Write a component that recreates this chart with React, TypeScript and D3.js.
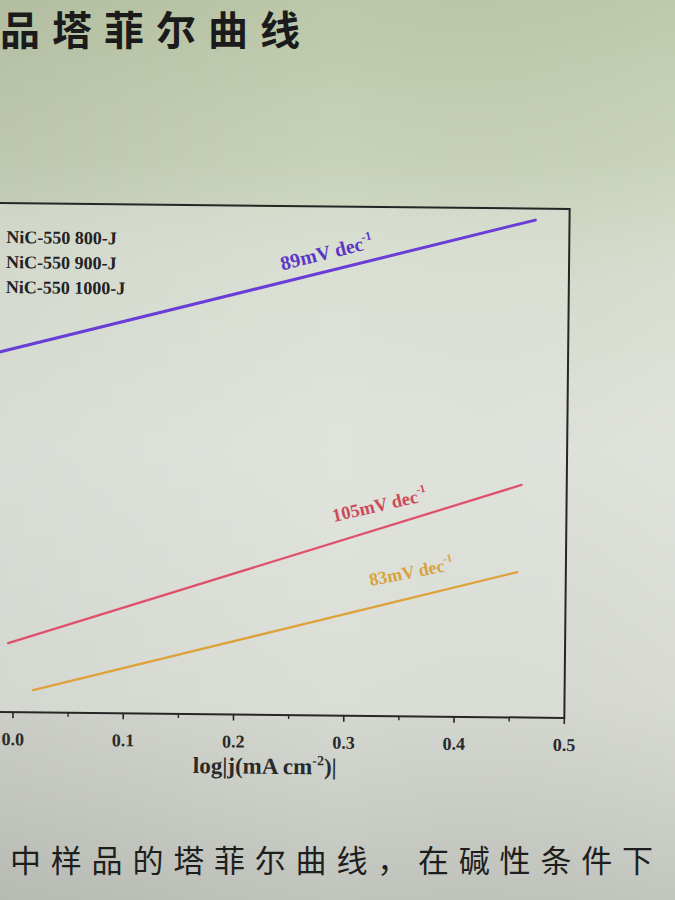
import React from "react";
import * as d3 from "d3";

// ---- data ----
const xTicks = [0.0, 0.1, 0.2, 0.3, 0.4, 0.5];
const xTickLabels = ["0.0", "0.1", "0.2", "0.3", "0.4", "0.5"];
const xMinorTicks = [0.05, 0.15, 0.25, 0.35, 0.45];

const legendNames = ["NiC-550 800-J", "NiC-550 900-J", "NiC-550 1000-J"];

// log|j| (x) and overpotential in V (y)
const purpleX = [-0.03, 0.469];
const purpleY = [0.3919, 0.4364];
const redX = [-0.005, 0.459];
const redY = [0.3017, 0.3531];
const orangeX = [0.018, 0.456];
const orangeY = [0.287, 0.3257];

const slopeLabels = ["89mV dec", "105mV dec", "83mV dec"];
const slopeLabelX = [0.24, 0.289, 0.323];

const titleText = "品塔菲尔曲线";
const bodyText = "中样品的塔菲尔曲线，在碱性条件下";

const W = 675;
const H = 900;

export default function App() {
  const plot = { left: -94.6, right: 567, top: 206, bottom: 715 };
  const x = d3.scaleLinear().domain([-0.1, 0.5]).range([plot.left, plot.right]);
  const y = d3.scaleLinear().domain([0.28, 0.44]).range([plot.bottom, plot.top]);

  const line = d3
    .line<[number, number]>()
    .x((d) => x(d[0]))
    .y((d) => y(d[1]));

  const series = [
    { xs: purpleX, ys: purpleY, color: "#6a3ed6", width: 3, label: slopeLabels[0], lx: slopeLabelX[0], lc: "#5b37c4", fs: 20, off: -12, rot: -14.5 },
    { xs: redX, ys: redY, color: "#e0506c", width: 2.3, label: slopeLabels[1], lx: slopeLabelX[1], lc: "#cc4a5c", fs: 18.5, off: -21, rot: -13.5 },
    { xs: orangeX, ys: orangeY, color: "#dea23c", width: 2.3, label: slopeLabels[2], lx: slopeLabelX[2], lc: "#d7a340", fs: 18, off: -22, rot: -11.5 },
  ];

  const interpY = (xs: number[], ys: number[], v: number) =>
    d3.scaleLinear().domain(xs).range(ys)(v);

  const serif = "'Liberation Serif', 'Times New Roman', serif";
  const cjk = "'Noto Sans CJK SC', sans-serif";

  return (
    <svg
      width={W}
      height={H}
      viewBox={`0 0 ${W} ${H}`}
      style={{ position: "absolute", left: 0, top: 0, display: "block" }}
    >
      <defs>
        <linearGradient id="bgv" x1="0" y1="0" x2="0" y2="1">
          <stop offset="0" stopColor="#bcc8a9" />
          <stop offset="0.18" stopColor="#c8d2b8" />
          <stop offset="0.3" stopColor="#d6dccd" />
          <stop offset="0.5" stopColor="#dfe2db" />
          <stop offset="0.78" stopColor="#d6d9d1" />
          <stop offset="0.9" stopColor="#cacec6" />
          <stop offset="1" stopColor="#c0c4bc" />
        </linearGradient>
        <linearGradient id="bgh" x1="0" y1="0" x2="1" y2="0">
          <stop offset="0" stopColor="#000" stopOpacity="0.05" />
          <stop offset="0.5" stopColor="#000" stopOpacity="0" />
          <stop offset="1" stopColor="#fff" stopOpacity="0.04" />
        </linearGradient>
      </defs>
      <rect x={0} y={0} width={W} height={H} fill="url(#bgv)" />
      <rect x={0} y={0} width={W} height={H} fill="url(#bgh)" />

      {/* page heading (cut at the top-left of the photo) */}
      <text
        x={0}
        y={45}
        fontFamily={cjk}
        fontWeight={700}
        fontSize={40}
        letterSpacing={12}
        fill="#1b1b1b"
      >
        {titleText}
      </text>

      <g transform="rotate(0.6, 283, 460)">
        {/* frame */}
        <rect
          x={plot.left}
          y={plot.top}
          width={plot.right - plot.left}
          height={plot.bottom - plot.top}
          fill="#e2e5de"
          fillOpacity={0.4}
          stroke="#262626"
          strokeWidth={2}
        />

        {/* x ticks */}
        {xTicks.map((t, i) => (
          <g key={`t${i}`}>
            <line x1={x(t)} x2={x(t)} y1={plot.bottom} y2={plot.bottom + 6} stroke="#262626" strokeWidth={1.6} />
            <text
              x={x(t)}
              y={plot.bottom + 33}
              textAnchor="middle"
              fontFamily={serif}
              fontWeight={700}
              fontSize={18}
              fill="#2a2a2a"
            >
              {xTickLabels[i]}
            </text>
          </g>
        ))}
        {xMinorTicks.map((t, i) => (
          <line key={`m${i}`} x1={x(t)} x2={x(t)} y1={plot.bottom} y2={plot.bottom + 4} stroke="#262626" strokeWidth={1.4} />
        ))}

        {/* x axis title */}
        <text
          x={268}
          y={774}
          textAnchor="middle"
          fontFamily={serif}
          fontWeight={700}
          fontSize={23}
          fill="#2a2a2a"
        >
          <tspan>log|j(mA cm</tspan>
          <tspan dy={-9} fontSize={14}>-2</tspan>
          <tspan dy={9}>)|</tspan>
        </text>

        {/* legend text (symbols are cut off at the left of the photo) */}
        {legendNames.map((n, i) => (
          <text
            key={n}
            x={4}
            y={246 + i * 25}
            fontFamily={serif}
            fontWeight={700}
            fontSize={18}
            fill="#222"
          >
            {n}
          </text>
        ))}

        {/* Tafel lines */}
        {series.map((s, i) => (
          <path
            key={`l${i}`}
            d={line(s.xs.map((v, j) => [v, s.ys[j]] as [number, number])) || ""}
            fill="none"
            stroke={s.color}
            strokeWidth={s.width}
            strokeLinecap="round"
          />
        ))}

        {/* slope labels */}
        {series.map((s, i) => {
          const px = x(s.lx);
          const py = y(interpY(s.xs, s.ys, s.lx)) + s.off;
          return (
            <text
              key={`s${i}`}
              transform={`translate(${px},${py}) rotate(${s.rot})`}
              fontFamily={serif}
              fontWeight={700}
              fontSize={s.fs}
              fill={s.lc}
            >
              <tspan>{s.label}</tspan>
              <tspan dy={-9} fontSize={s.fs * 0.6}>-1</tspan>
            </text>
          );
        })}
      </g>

      {/* body text below the figure */}
      <text
        x={10}
        y={872}
        fontFamily={cjk}
        fontWeight={400}
        fontSize={31}
        letterSpacing={9.8}
        fill="#1e1e1e"
      >
        {bodyText}
      </text>
    </svg>
  );
}
